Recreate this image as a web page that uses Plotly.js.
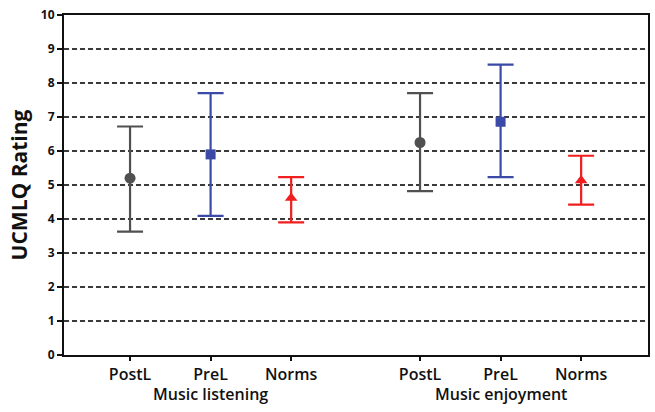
<!DOCTYPE html>
<html><head><meta charset="utf-8">
<script src="https://cdn.plot.ly/plotly-3.0.1.min.js"></script>
<style>html,body{margin:0;padding:0;background:#fff}#chart{width:655px;height:412px}</style>
</head><body><div id="chart"></div>
<script>
// Data
const categories = ["PostL","PreL","Norms","PostL","PreL","Norms"];
const positions = [1, 2, 3, 4.6, 5.6, 6.6];
const groups = ["Music listening","Music enjoyment"];
const groupCenters = [2, 5.6];
const postMean = [5.2, 6.25];
const postUpper = [6.72, 7.7];
const postLower = [3.63, 4.82];
const preMean = [5.9, 6.86];
const preUpper = [7.7, 8.54];
const preLower = [4.09, 5.23];
const normMean = [4.62, 5.13];
const normUpper = [5.23, 5.86];
const normLower = [3.9, 4.42];

function trace(xs, mean, up, lo, color, symbol, size){
  return {
    x: xs, y: mean, type: 'scatter', mode: 'markers',
    marker: {color: color, symbol: symbol, size: size},
    error_y: {type: 'data', symmetric: false,
      array: mean.map((m,i)=>up[i]-m),
      arrayminus: mean.map((m,i)=>m-lo[i]),
      color: color, thickness: 2.2, width: 13},
    showlegend: false, hoverinfo: 'skip'
  };
}
const data = [
  trace([positions[0], positions[3]], postMean, postUpper, postLower, '#505050', 'circle', 11),
  trace([positions[1], positions[4]], preMean, preUpper, preLower, '#3a4aa6', 'square', 10),
  trace([positions[2], positions[5]], normMean, normUpper, normLower, '#f01e1e', 'triangle-up', 11)
];
const fontFam = '"Open Sans", "DejaVu Sans", sans-serif';
const layout = {
  width: 655, height: 412,
  margin: {l: 64, r: 7, t: 15, b: 57},
  paper_bgcolor: '#fff', plot_bgcolor: '#fff',
  xaxis: {
    range: [0.18, 7.43], tickvals: positions, ticktext: categories,
    ticks: 'outside', ticklen: 4, tickwidth: 2, tickcolor: '#111',
    showgrid: false, zeroline: false,
    showline: true, linecolor: '#111', linewidth: 2, mirror: true,
    tickfont: {family: fontFam, size: 16, color: '#111', weight: 600}
  },
  yaxis: {
    range: [0, 10], dtick: 1, tick0: 0,
    ticks: 'outside', ticklen: 5, tickwidth: 2, tickcolor: '#111',
    showgrid: true, gridcolor: '#3a3a3a', gridwidth: 2, griddash: '5px,3px',
    zeroline: false,
    showline: true, linecolor: '#111', linewidth: 2, mirror: true,
    tickfont: {family: fontFam, size: 12, color: '#111', weight: 700},
    title: {text: 'UCMLQ Rating', standoff: 8,
      font: {family: fontFam, size: 21, color: '#111', weight: 700}}
  },
  annotations: groups.map((g,i)=>({
    text: g, x: groupCenters[i], xref: 'x', y: -0.115, yref: 'paper',
    yanchor: 'middle', showarrow: false,
    font: {family: fontFam, size: 16, color: '#111', weight: 600}
  }))
};
Plotly.newPlot('chart', data, layout, {displayModeBar: false, staticPlot: true});
</script></body></html>
